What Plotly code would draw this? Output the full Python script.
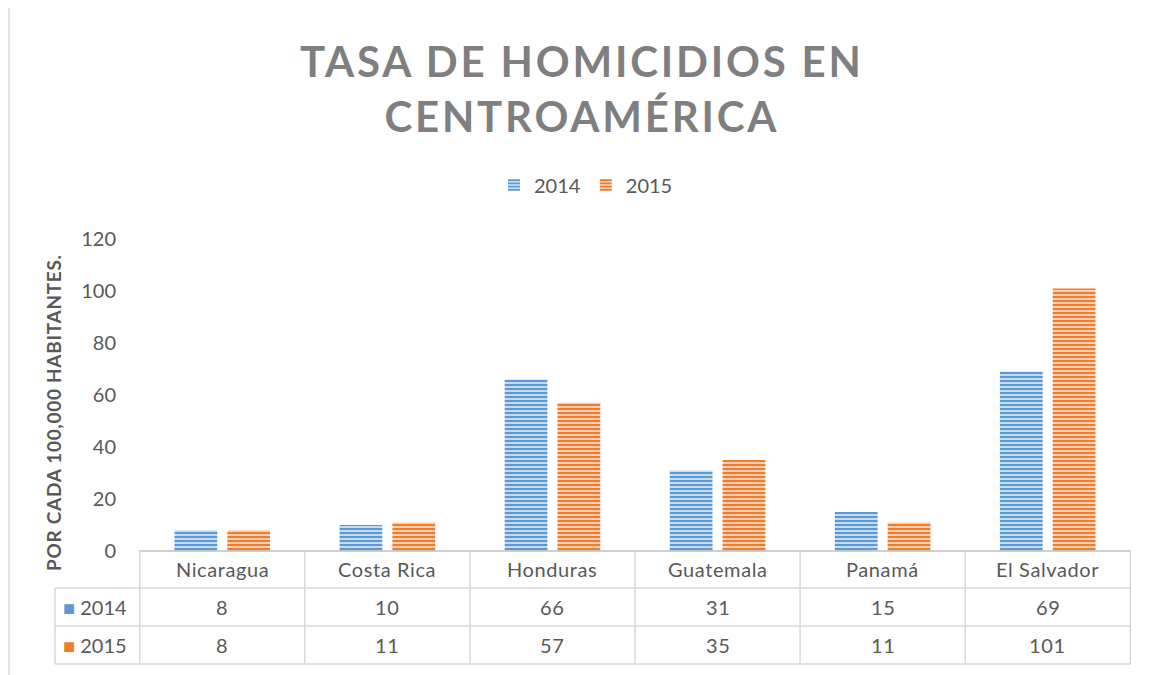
import plotly.graph_objects as go

categories = ["Nicaragua", "Costa Rica", "Honduras", "Guatemala", "Panamá", "El Salvador"]
series_names = ["2014", "2015"]
values_2014 = [8, 10, 66, 31, 15, 69]
values_2015 = [8, 11, 57, 35, 11, 101]
y_ticks = [0, 20, 40, 60, 80, 100, 120]

title_lines = ["TASA DE HOMICIDIOS EN", "CENTROAMÉRICA"]
y_title = "POR CADA 100,000 HABITANTES."

blue = "#5B9BD5"
blue_light = "#C6DBF0"
orange = "#ED7D31"
orange_light = "#F9CDAE"
text_gray = "#595959"
line_gray = "#D9D9D9"
FONT = "Lato"

W, H = 1151, 675
OFF = 8  # page body margin
L, R, T, B = 139, 1131, 239, 551
def px_x(p):
    return (p - L) / (R - L)
def px_y(p):
    return (B - p) / (B - T)
def ls(text, px):
    return f"<span style='letter-spacing:{px}px'>{text}</span>"

fig = go.Figure()
for name, vals, c, cl in [("2014", values_2014, blue, blue_light),
                          ("2015", values_2015, orange, orange_light)]:
    fig.add_trace(go.Bar(
        x=categories, y=vals, name=name,
        marker=dict(color=c, line=dict(width=0),
                    pattern=dict(shape="-", fgcolor=c, bgcolor=cl, size=4,
                                 solidity=0.5, fillmode="replace")),
    ))

shapes = []
shapes.append(dict(type="line", xref="paper", yref="paper", x0=0, x1=1, y0=0, y1=0,
                   line=dict(color="#BFBFBF", width=1.5)))
for py in [588, 626, 664]:
    shapes.append(dict(type="line", xref="paper", yref="paper", x0=px_x(55), x1=1,
                       y0=px_y(py), y1=px_y(py), line=dict(color=line_gray, width=1.5)))
n = len(categories)
for i in range(n + 1):
    xv = i - 0.5
    shapes.append(dict(type="line", xref="x", yref="paper", x0=xv, x1=xv,
                       y0=0, y1=px_y(664), line=dict(color=line_gray, width=1.5)))
shapes.append(dict(type="line", xref="paper", yref="paper", x0=px_x(55), x1=px_x(55),
                   y0=px_y(588), y1=px_y(664), line=dict(color=line_gray, width=1.5)))
shapes.append(dict(type="line", xref="paper", yref="paper", x0=px_x(9), x1=px_x(9),
                   y0=px_y(8), y1=px_y(700), line=dict(color=line_gray, width=1.5)))

annotations = []
row_y = {"header": px_y(569), "2014": px_y(607), "2015": px_y(645)}
tfont = dict(family=FONT, size=20, color=text_gray)
for i, cat in enumerate(categories):
    annotations.append(dict(x=cat, y=row_y["header"], xref="x", yref="paper", text=ls(cat, 0.6),
                            showarrow=False, font=tfont, xanchor="center", yanchor="middle"))
    annotations.append(dict(x=cat, y=row_y["2014"], xref="x", yref="paper",
                            text=ls(values_2014[i], 0.6), showarrow=False, font=tfont,
                            xanchor="center", yanchor="middle"))
    annotations.append(dict(x=cat, y=row_y["2015"], xref="x", yref="paper",
                            text=ls(values_2015[i], 0.6), showarrow=False, font=tfont,
                            xanchor="center", yanchor="middle"))
for name, c in [("2014", blue), ("2015", orange)]:
    annotations.append(dict(x=px_x(61), y=row_y[name], xref="paper", yref="paper",
                            text=f"<span style='color:{c};font-size:20px'>■</span> {name}",
                            showarrow=False, font=tfont, xanchor="left", yanchor="middle"))
annotations.append(dict(x=px_x(53), y=px_y(413), xref="paper", yref="paper",
                        text=f"<b>{ls(y_title, 0.7)}</b>",
                        textangle=-90, showarrow=False,
                        font=dict(family=FONT, size=19, color=text_gray),
                        xanchor="center", yanchor="middle"))
annotations.append(dict(x=px_x(582), y=px_y(89), xref="paper", yref="paper",
                        text="<br>".join(f"<b>{ls(t, 2.8)}</b>" for t in title_lines),
                        showarrow=False, align="center",
                        font=dict(family=FONT, size=42, color="#7F7F7F"),
                        xanchor="center", yanchor="middle"))

fig.update_layout(
    width=W - OFF, height=H - OFF,
    margin=dict(l=L - OFF, r=W - R, t=T - OFF, b=H - B),
    paper_bgcolor="white", plot_bgcolor="white",
    barmode="group", bargap=0.36, bargroupgap=0.19,
    legend=dict(orientation="h", x=px_x(586), xanchor="center", y=px_y(185), yanchor="middle",
                font=dict(family=FONT, size=20, color=text_gray), itemwidth=30),
    xaxis=dict(showticklabels=False, showgrid=False, zeroline=False, showline=False, ticks=""),
    yaxis=dict(range=[0, 120], tickvals=y_ticks, showgrid=False, zeroline=False, showline=False,
               ticks="", ticklabelstandoff=22,
               tickfont=dict(family=FONT, size=20, color=text_gray)),
    shapes=shapes, annotations=annotations,
    showlegend=True,
)

fig.write_html("out.html")
